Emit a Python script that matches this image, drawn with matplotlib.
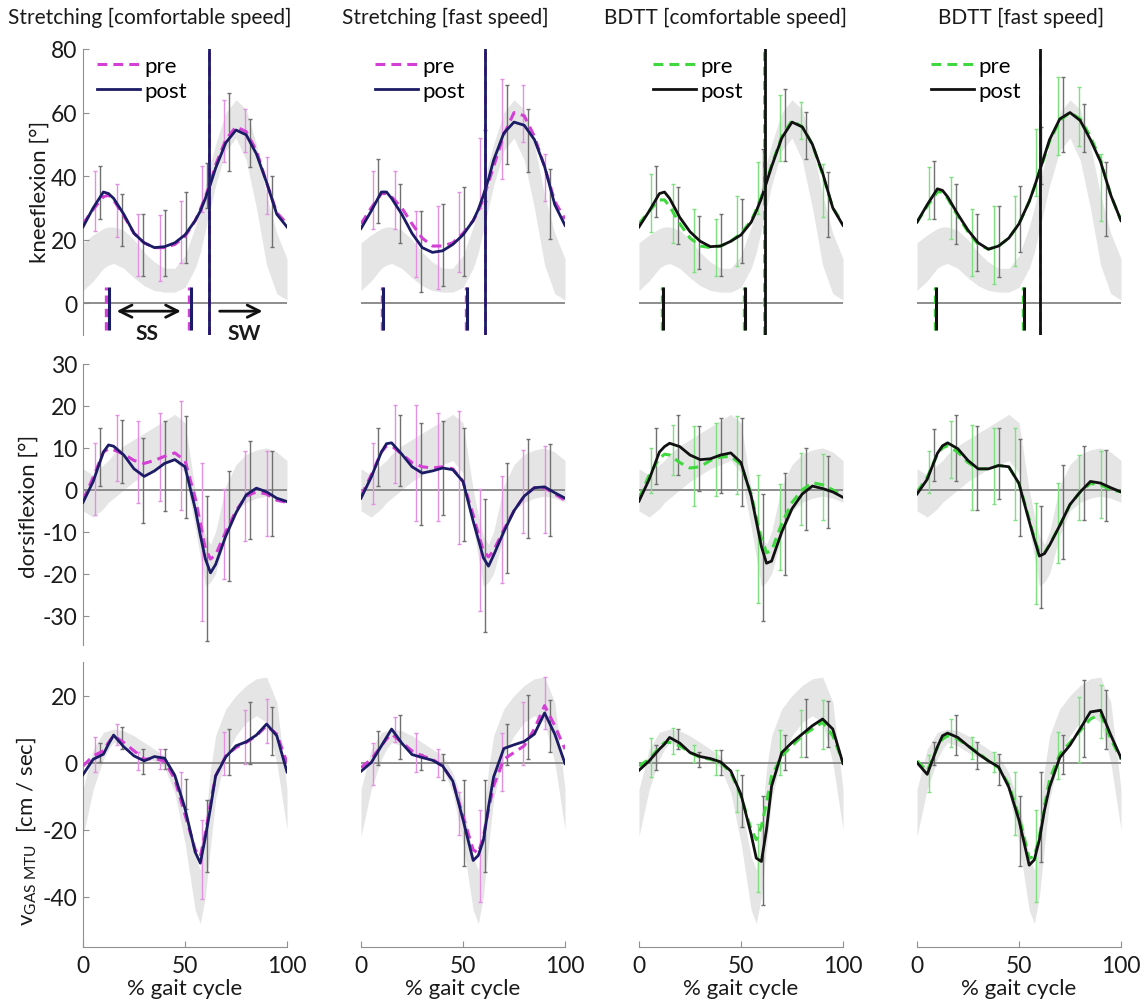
import numpy as np
import matplotlib
matplotlib.use("Agg")
import matplotlib.pyplot as plt
from matplotlib.lines import Line2D

plt.rcParams['font.family'] = ['Lato', 'DejaVu Sans']
plt.rcParams['mathtext.fontset'] = 'custom'
plt.rcParams['mathtext.rm'] = 'Lato'
plt.rcParams['mathtext.it'] = 'Lato:italic'
plt.rcParams['mathtext.bf'] = 'Lato:bold'
plt.rcParams['axes.unicode_minus'] = False

# ======================= DATA =======================
pct = [0, 5, 10, 12.5, 15, 20, 25, 30, 35, 40, 45, 50, 55, 57.5, 60, 62.5, 65, 70, 75, 80, 85, 90, 95, 100]
eb_x_pre = [6, 16.5, 27, 37.5, 48, 58.5, 69, 79.5, 90]
eb_x_post = [8.5, 19, 29.5, 40, 50.5, 61, 71.5, 82, 92.5]

titles = ["Stretching [comfortable speed]", "Stretching [fast speed]",
          "BDTT [comfortable speed]", "BDTT [fast speed]"]
legend_labels = ["pre", "post"]
ylabels = ["kneeflexion [°]", "dorsiflexion [°]", r"$\mathrm{v_{GAS\ MTU}}$  [cm / sec]"]
xlabel = "% gait cycle"
phase_labels = ["SS", "SW"]

# ---- knee flexion ----
knee_norm_lo = [4, 7, 11, 12, 12.5, 11, 8, 5.5, 4, 3.5, 3.5, 5, 11, 16, 23, 30, 37, 48, 52, 45, 30, 12, 3, 1]
knee_norm_hi = [19, 21.5, 23.5, 24, 24, 23, 20, 16, 13, 11, 11, 15, 24, 30, 37, 44, 50, 60, 64, 61, 50, 34, 22, 14]

knee_post_sc = [24, 30, 35, 34.5, 33, 28, 22, 19, 17.5, 17.8, 19, 21.5, 26, 29, 33, 37.5, 42.5, 50.5, 54.5, 53, 47, 38, 28, 24]
knee_pre_sc = [25, 29.5, 33.5, 34, 32.5, 27.5, 22, 19, 17.5, 17.5, 18.5, 21, 26, 29.5, 33.5, 38, 43.5, 51.5, 55.5, 54, 48, 38, 28.5, 25]
knee_post_sf = [23.5, 29, 35, 35, 33, 28, 22, 17.5, 16, 16.5, 18.5, 21.5, 26, 29.5, 34, 39, 45, 53.5, 57, 56, 51.5, 43, 31, 24.5]
knee_pre_sf = [25, 30, 34.5, 34.5, 33.5, 30, 25, 20.5, 18, 18, 19, 22, 26, 29, 33, 38, 43, 53, 60, 59, 52.5, 43, 32, 26.5]
knee_post_bc = [24, 29, 34.5, 35, 33, 27, 22.5, 19.5, 17.8, 18, 19.5, 21.5, 25.5, 29, 33, 38, 43, 52, 57, 55.5, 50, 41, 30, 24.5]
knee_pre_bc = [25, 29, 32.5, 32.5, 30.5, 25, 20.5, 18, 17.5, 18, 19.5, 22, 26, 29.5, 33.5, 38.5, 43.5, 52.5, 57.5, 55.5, 50, 40.5, 30, 25]
knee_post_bf = [25.5, 31, 36, 35.5, 33.5, 28, 23, 19, 17, 18, 20.5, 25, 32, 36.5, 41.5, 46.5, 51.5, 58, 60, 57.5, 51.5, 44.5, 34, 26]
knee_pre_bf = [25.5, 30.5, 35, 35, 33, 27.5, 22.5, 18.5, 17, 18, 20.5, 25, 32, 36.5, 41.5, 46, 51, 57.5, 60, 58, 52.5, 45, 34, 26]

knee_pre_sc_hi = [41.7, 37.5, 28, 27.8, 32.3, 43.3, 63.8, 61.2, 46]
knee_pre_sc_lo = [22.8, 20.8, 8.6, 7, 12.8, 28.6, 44.4, 47.5, 28]
knee_post_sc_hi = [43.3, 34.4, 28, 29.4, 35, 44, 66, 58, 40]
knee_post_sc_lo = [26.5, 18.1, 8.6, 8.6, 12.8, 30, 41.7, 42.8, 17.6]
knee_pre_sf_hi = [41.7, 41.7, 29.1, 30.7, 34.9, 52, 70.7, 68.6, 47]
knee_pre_sf_lo = [23.3, 23.3, 8.1, 4.4, 9.7, 30, 39.1, 50.7, 32.3]
knee_post_sf_hi = [45.4, 37.5, 29.1, 31.2, 36.6, 54.4, 68.6, 61.2, 42.3]
knee_post_sf_lo = [25.4, 19.1, 3.4, 5.5, 8.6, 32.3, 43.8, 41.2, 20.2]
knee_pre_bc_hi = [40.7, 37.5, 29.7, 26.5, 33.8, 44.4, 65.4, 63.3, 43.8]
knee_pre_bc_lo = [22.3, 19.1, 9.7, 8.6, 11.8, 28, 44.9, 51.7, 27]
knee_post_bc_hi = [43.3, 36.5, 27.5, 28, 32.8, 48.6, 67.5, 60.1, 41.2]
knee_post_bc_lo = [27, 18.6, 10.7, 8.6, 12.8, 33.8, 44.9, 45.4, 20.7]
knee_pre_bf_hi = [42.8, 39.7, 29.7, 30.7, 33.8, 54.9, 71.2, 68, 47]
knee_pre_bf_lo = [26.5, 20.2, 8.6, 6, 11.8, 33.8, 46.5, 49.6, 26]
knee_post_bf_hi = [44.9, 37.5, 28, 30.7, 37, 55.4, 71.2, 62.8, 44.4]
knee_post_bf_lo = [26.5, 18.6, 10.2, 8.1, 16, 37.5, 47.5, 47.5, 21.2]

# gait events (% gait cycle) per condition: sc, sf, bc, bf
opp_off_pre = [11.3, 10.5, 11.5, 9]
opp_off_post = [12.7, 11, 12, 9.5]
opp_on_pre = [52, 51.3, 51.3, 52]
opp_on_post = [53, 52, 51.8, 52.4]
toe_off_pre = [61.9, 60.6, 61.4, 60.3]
toe_off_post = [62, 60.6, 61.7, 60.3]

# ---- dorsiflexion ----
dorsi_norm_lo = [-5, -6.5, -4.5, -3, -2, 0, 2, 3.5, 5, 6, 7, 4, -9, -16, -23, -22, -20, -11, -5, -3, -2, -1.5, -2, -3]
dorsi_norm_hi = [5, 3.5, 6, 7, 8.5, 10.5, 12, 13.5, 15, 16.5, 18, 16, 0, -6, -11, -13, -10, 1, 6, 8.5, 9.5, 10, 9, 7]

dorsi_post_sc = [-3, 2, 9, 10.7, 10.4, 8.3, 5, 3.2, 4.5, 6.3, 7.2, 5.5, -4.5, -10.8, -16.5, -19.8, -17.8, -11, -5.5, -1.2, 0.4, -0.5, -2, -2.8]
dorsi_pre_sc = [-2.5, 3, 9, 9.8, 9.5, 8.5, 7, 6.3, 7, 8, 8.8, 7, -2, -8, -14, -16.5, -15.5, -10, -5, -1.5, -0.5, -1, -2.5, -3]
dorsi_post_sf = [-2, 3, 9, 11, 11.2, 8.5, 5.5, 4, 4.5, 5.2, 4.8, 2, -7.5, -11.8, -16.2, -18.2, -15.6, -10, -5, -1.5, 0.5, 0.7, -0.7, -2]
dorsi_pre_sf = [-1.5, 3.5, 9, 10.5, 10.5, 8.5, 6.5, 5.5, 5.2, 5.5, 5, 2, -6, -10.5, -14.5, -16, -14.5, -9.5, -5, -1.5, 0.5, 0.5, -1, -2.5]
dorsi_post_bc = [-2.7, 2.5, 9, 10.3, 11.1, 10.3, 8.3, 7.2, 7.4, 8.3, 8.8, 6.5, -1.5, -7.5, -13.5, -17.5, -17, -10, -4.5, -1, 0.9, 0.3, -0.5, -1.8]
dorsi_pre_bc = [-2, 3.5, 7.5, 8.5, 8.3, 6.5, 5.2, 5.5, 7, 7.8, 8, 6, -1, -6.5, -11.5, -15, -14.5, -8, -3, 0, 1.7, 1.2, 0, -1.5]
dorsi_post_bf = [-1, 2.5, 8.7, 10.5, 11.2, 9.8, 7, 5, 5, 5.8, 5.5, 1.5, -7.5, -11.8, -15.8, -15.2, -13.2, -8.5, -3.5, -0.5, 2, 1.6, 0.5, -0.5]
dorsi_pre_bf = [-0.5, 3, 8.5, 10, 10.5, 9, 6.5, 5, 5, 5.8, 5.5, 1.5, -7, -11.5, -15, -15, -13, -8.5, -3.5, -0.5, 1.5, 1.2, 0, -0.5]

dorsi_pre_sc_hi = [11.2, 17.9, 16.4, 18.3, 21.1, 6.4, 0.1, 9.2, 9.2]
dorsi_pre_sc_lo = [-5.9, 2.1, -3.1, -2.7, -4.7, -31.3, -21.3, -12.2, -11]
dorsi_post_sc_hi = [14.8, 16.7, 12.4, 16.4, 17.5, -1.5, 4.4, 11.6, 9.2]
dorsi_post_sc_lo = [0.9, 1.7, -7.9, -5.1, -6.7, -36, -21.7, -11.8, -11]
dorsi_pre_sf_hi = [11.2, 20.3, 20.3, 18.3, 18.7, 0.1, 3.3, 9.6, 10.4]
dorsi_pre_sf_lo = [-3.5, 1.7, -7.5, -7.5, -13, -28.9, -22.1, -10.2, -10.2]
dorsi_post_sf_hi = [14.8, 17.9, 16, 16.4, 14.8, -2.3, 6.4, 12, 11]
dorsi_post_sf_lo = [0.9, 0.9, -8.3, -5.9, -12.2, -34, -19.8, -11.4, -11]
dorsi_pre_bc_hi = [10, 15.5, 15.2, 16, 17.5, 3.6, 1.3, 8.8, 8.6]
dorsi_pre_bc_lo = [-0.7, 3.6, -3.9, -1.5, -1.1, -26.9, -19, -8.3, -7.1]
dorsi_post_bc_hi = [14.8, 17.9, 15.2, 17.1, 17.1, -1.1, 4, 10, 8]
dorsi_post_bc_lo = [1.3, 3.6, -0.3, -0.7, -3.9, -31.3, -20.2, -9.5, -9]
dorsi_pre_bf_hi = [9.2, 16.4, 15.5, 14.8, 14.8, -3.1, 1.7, 8.4, 9.2]
dorsi_pre_bf_lo = [-0.7, 2.9, -4.7, -3.5, -7.1, -27.3, -17.4, -7.1, -6.7]
dorsi_post_bf_hi = [14.4, 17.9, 15.2, 14.8, 12, -3.9, 6, 10.5, 9.4]
dorsi_post_bf_lo = [2.1, 2.1, -4.7, -2.3, -11, -28.1, -16.6, -7.1, -7.5]

# ---- gastrocnemius MTU velocity ----
vgas_norm_lo = [-22, -8, 1, 4, 6, 5, 3, 1.5, 0.5, -1.5, -9, -24, -44, -48, -40, -25, -11, 2, 8, 12, 14, 12, 0, -20]
vgas_norm_hi = [-8, 4, 9, 9.5, 10, 9.5, 8, 6, 4, 2, -3, -12, -28, -32, -18, -2, 8, 16, 20, 23, 25, 25.5, 18, -8]

vgas_post_sc = [-3.6, 1, 2.5, 5.5, 8.2, 4.7, 2, 0.5, 1.8, 1.3, -3.8, -13.7, -26.7, -30, -22.2, -13.5, -4, 1.7, 5, 6.2, 8.2, 11.5, 8, -2.8]
vgas_pre_sc = [-1, 2, 3.5, 6, 8, 6, 3.5, 1, 1.2, 0.5, -5, -15.5, -26, -28, -21, -12, -4, 2, 4.5, 6, 8, 11, 8.5, 0]
vgas_post_sf = [-2.6, 0, 5, 7.5, 10, 5.8, 2.4, 1.5, 0.7, -1, -5.5, -17, -29.2, -27.7, -23.2, -13.2, -4.3, 4.2, 5.3, 6.3, 8.5, 14.8, 8.5, -0.3]
vgas_pre_sf = [-1.5, 1, 5, 7, 8.5, 6, 3.5, 2, 1, -1, -5.5, -16, -26, -27, -22, -14, -7, 1, 3, 5, 10, 17, 11, 4]
vgas_post_bc = [-2.3, 0.5, 4, 5.5, 7.5, 5.8, 3, 1.8, 1.2, 0.2, -2.5, -9.5, -21.5, -28.5, -29.5, -20, -7, 3, 6, 8.5, 11, 13, 10, -0.3]
vgas_pre_bc = [-1, 1, 4.5, 6, 6, 5, 3, 1.5, 1, 0, -3, -10, -20, -23, -19, -12, -4, 2, 5, 8, 10, 12, 8, 0]
vgas_post_bf = [0, -3.5, 4.7, 8, 8.8, 7.5, 5, 2.6, 0.5, -1.3, -7.3, -17.2, -30.6, -29, -23, -14.2, -7.3, 1.5, 5.2, 10.1, 15.1, 15.6, 8.2, 1.4]
vgas_pre_bf = [0.5, -2.5, 4.5, 7, 8, 7, 5, 3, 0.5, -1.5, -6.5, -16, -28.5, -28, -22, -13, -5, 2.5, 6, 9.5, 13, 14.5, 7, 1]

vgas_pre_sc_hi = [7.7, 11.6, 3.2, 4.2, -2.8, -17.2, 9.2, 15.6, 19.1]
vgas_pre_sc_lo = [-2.8, 5.2, -2.3, -1.8, -11.7, -40.6, -3.8, -0.3, 5.7]
vgas_post_sc_hi = [5.7, 10.7, 4.2, 4.2, -4.8, -11.2, 10.1, 18.1, 16.6]
vgas_post_sc_lo = [0.2, 4.2, -3.3, -1.8, -13.7, -32.6, -3.8, -0.3, 2.2]
vgas_pre_sf_hi = [5.7, 13.6, 8.7, 4.2, -8.8, -14.2, 8.7, 18.1, 25.6]
vgas_pre_sf_lo = [-6.8, 6.2, -2.8, -4.3, -21.7, -41.6, -8.6, -0.8, 10.1]
vgas_post_sf_hi = [9.3, 14.3, 2.7, 2.7, -5.3, -5.3, 11.6, 20.1, 18.6]
vgas_post_sf_lo = [-0.6, 1.2, -2.3, -5.3, -30.7, -32.6, -0.6, 1.2, 3.2]
vgas_pre_bc_hi = [7.2, 10.4, 5.2, 3.7, -2.3, -18.2, 9.6, 15.6, 18.6]
vgas_pre_bc_lo = [-4.3, 2.7, 0.2, -3.8, -14.7, -38.6, -3.8, 1.7, 4.2]
vgas_post_bc_hi = [5.2, 10.1, 3.2, 3.7, -3.8, -9.9, 8.2, 19.1, 18.3]
vgas_post_bc_lo = [-2.3, 4.2, -1.3, -3.8, -19.2, -42.6, -2.3, 1.7, 4.7]
vgas_pre_bf_hi = [2.2, 13.1, 7.7, 3.2, -2.8, -14.2, 9.2, 19.6, 23.1]
vgas_pre_bf_lo = [-8.8, 4.7, 1.2, -2.8, -21.7, -41.6, -4.8, 0.2, 7.2]
vgas_post_bf_hi = [6.2, 14.3, 6.2, 2.7, -9.9, -2.8, 8.2, 24.6, 21.6]
vgas_post_bf_lo = [-0.8, 2.2, -1.8, -6.8, -30.8, -29.7, -3.3, 1.7, 4.2]

yticks_rows = [[0, 20, 40, 60, 80], [-30, -20, -10, 0, 10, 20, 30], [-40, -20, 0, 20]]
xticks = [0, 50, 100]

# ======================= STYLE / LAYOUT =======================
W, H = 1145, 1003
col_left = [83, 361, 639, 917]
col_w = 204
row_top = [50, 365, 663]
row_bot = [336, 646, 948]
ylims = [(-10, 80), (-37, 30), (-55, 30)]

MAG = '#d43fd6'
MAG_EB = '#e291e2'
NAVY = '#1b1b66'
GRN = '#3fd93f'
GRN_EB = '#7fe07f'
BLK = '#111111'
GRAY_EB = '#707070'
BAND = '#e5e5e5'
ZERO = '#858585'
SPINE = '#909090'
TXT = '#1a1a1a'

pre_colors = [MAG, MAG, GRN, GRN]
pre_eb_colors = [MAG_EB, MAG_EB, GRN_EB, GRN_EB]
post_colors = [NAVY, NAVY, BLK, BLK]
DASH = (0, (3.2, 2.0))

rows = [
    dict(lo=knee_norm_lo, hi=knee_norm_hi, panels=[
        (knee_pre_sc, knee_post_sc, knee_pre_sc_hi, knee_pre_sc_lo, knee_post_sc_hi, knee_post_sc_lo),
        (knee_pre_sf, knee_post_sf, knee_pre_sf_hi, knee_pre_sf_lo, knee_post_sf_hi, knee_post_sf_lo),
        (knee_pre_bc, knee_post_bc, knee_pre_bc_hi, knee_pre_bc_lo, knee_post_bc_hi, knee_post_bc_lo),
        (knee_pre_bf, knee_post_bf, knee_pre_bf_hi, knee_pre_bf_lo, knee_post_bf_hi, knee_post_bf_lo)]),
    dict(lo=dorsi_norm_lo, hi=dorsi_norm_hi, panels=[
        (dorsi_pre_sc, dorsi_post_sc, dorsi_pre_sc_hi, dorsi_pre_sc_lo, dorsi_post_sc_hi, dorsi_post_sc_lo),
        (dorsi_pre_sf, dorsi_post_sf, dorsi_pre_sf_hi, dorsi_pre_sf_lo, dorsi_post_sf_hi, dorsi_post_sf_lo),
        (dorsi_pre_bc, dorsi_post_bc, dorsi_pre_bc_hi, dorsi_pre_bc_lo, dorsi_post_bc_hi, dorsi_post_bc_lo),
        (dorsi_pre_bf, dorsi_post_bf, dorsi_pre_bf_hi, dorsi_pre_bf_lo, dorsi_post_bf_hi, dorsi_post_bf_lo)]),
    dict(lo=vgas_norm_lo, hi=vgas_norm_hi, panels=[
        (vgas_pre_sc, vgas_post_sc, vgas_pre_sc_hi, vgas_pre_sc_lo, vgas_post_sc_hi, vgas_post_sc_lo),
        (vgas_pre_sf, vgas_post_sf, vgas_pre_sf_hi, vgas_pre_sf_lo, vgas_post_sf_hi, vgas_post_sf_lo),
        (vgas_pre_bc, vgas_post_bc, vgas_pre_bc_hi, vgas_pre_bc_lo, vgas_post_bc_hi, vgas_post_bc_lo),
        (vgas_pre_bf, vgas_post_bf, vgas_pre_bf_hi, vgas_pre_bf_lo, vgas_post_bf_hi, vgas_post_bf_lo)]),
]


def errbars(ax, x, hi, lo, color, z):
    hi = np.asarray(hi, float)
    lo = np.asarray(lo, float)
    mid = (hi + lo) / 2.0
    ax.errorbar(x, mid, yerr=(hi - lo) / 2.0, fmt='none', ecolor=color,
                elinewidth=1.0, capsize=1.6, capthick=1.0, zorder=z)


fig = plt.figure(figsize=(W / 100, H / 100), dpi=100)

for r, row in enumerate(rows):
    for c in range(4):
        ax = fig.add_axes([col_left[c] / W, 1 - row_bot[r] / H, col_w / W,
                           (row_bot[r] - row_top[r]) / H])
        pre, post, pre_hi, pre_lo, post_hi, post_lo = row['panels'][c]
        ax.fill_between(pct, row['lo'], row['hi'], color=BAND, lw=0, zorder=1)
        ax.axhline(0, color=ZERO, lw=1.3, zorder=2)
        errbars(ax, eb_x_pre, pre_hi, pre_lo, pre_eb_colors[c], 3)
        errbars(ax, eb_x_post, post_hi, post_lo, GRAY_EB, 3.1)
        ax.plot(pct, pre, color=pre_colors[c], lw=2.2, ls=DASH, zorder=4)
        ax.plot(pct, post, color=post_colors[c], lw=2.0, zorder=5)

        ax.set_xlim(0, 100)
        ax.set_ylim(*ylims[r])
        for s in ['top', 'right']:
            ax.spines[s].set_visible(False)
        ax.spines['left'].set_visible(c == 0)
        ax.spines['bottom'].set_visible(r == 2)
        ax.spines['left'].set_color(SPINE)
        ax.spines['bottom'].set_color(SPINE)
        ax.patch.set_alpha(0)

        if c == 0:
            ax.set_yticks(yticks_rows[r])
            ax.tick_params(axis='y', direction='in', length=4, color=SPINE,
                           labelsize=16.5, labelcolor=TXT, pad=4)
        else:
            ax.set_yticks([])
        if r == 2:
            ax.set_xticks(xticks)
            ax.tick_params(axis='x', direction='in', length=4, color=SPINE,
                           labelsize=16.5, labelcolor=TXT, pad=6)
            ax.set_xlabel(xlabel, fontsize=16, color=TXT)
            ax.xaxis.set_label_coords(0.5, -0.11)
        else:
            ax.set_xticks([])

        if r == 0:
            # gait events
            ax.axvline(toe_off_pre[c], color=pre_colors[c], lw=2.0, ls=DASH, zorder=6)
            ax.axvline(toe_off_post[c], color=post_colors[c], lw=2.0, zorder=7)
            for xe_pre, xe_post in [(opp_off_pre[c], opp_off_post[c]),
                                    (opp_on_pre[c], opp_on_post[c])]:
                ax.plot([xe_pre, xe_pre], [-8.5, 5], color=pre_colors[c], lw=2.4,
                        ls=(0, (2.5, 1.5)), zorder=6, solid_capstyle='butt')
                ax.plot([xe_post, xe_post], [-8.5, 5], color=post_colors[c], lw=2.2,
                        zorder=7, solid_capstyle='butt')
            handles = [Line2D([], [], color=pre_colors[c], lw=2.2, ls=DASH),
                       Line2D([], [], color=post_colors[c], lw=2.0)]
            ax.legend(handles, legend_labels, loc='upper left',
                      bbox_to_anchor=(0.07, 0.975), frameon=False, fontsize=16,
                      handlelength=1.9, handletextpad=0.2, labelspacing=0.2,
                      borderaxespad=0, borderpad=0)
            if c == 0:
                ax.annotate('', xy=(16.5, -2.5), xytext=(48, -2.5),
                            arrowprops=dict(arrowstyle='<->', lw=2.0, color=BLK,
                                            mutation_scale=22, shrinkA=0, shrinkB=0),
                            annotation_clip=False, zorder=8)
                ax.annotate('', xy=(88, -2.5), xytext=(67, -2.5),
                            arrowprops=dict(arrowstyle='->', lw=2.0, color=BLK,
                                            mutation_scale=22, shrinkA=0, shrinkB=0),
                            annotation_clip=False, zorder=8)
                ax.text(31.5, -9.5, phase_labels[0], ha='center', va='center',
                        fontsize=15, fontweight='bold', color=TXT, clip_on=False)
                ax.text(79, -9.5, phase_labels[1], ha='center', va='center',
                        fontsize=15, fontweight='bold', color=TXT, clip_on=False)

# titles
title_cx = [150, 445, 725, 1021]
for t, cx in zip(titles, title_cx):
    fig.text(cx / W, 1 - 18 / H, t, ha='center', va='center', fontsize=15, color=TXT)

# y labels
fig.text(40 / W, 1 - 192 / H, ylabels[0], rotation=90, ha='center', va='center',
         fontsize=16, color=TXT)
fig.text(29 / W, 1 - 506 / H, ylabels[1], rotation=90, ha='center', va='center',
         fontsize=16, color=TXT)
fig.text(26 / W, 1 - 831 / H, ylabels[2], rotation=90, ha='center', va='center',
         fontsize=16, color=TXT)

fig.savefig('out.png', dpi=100, facecolor='white')
